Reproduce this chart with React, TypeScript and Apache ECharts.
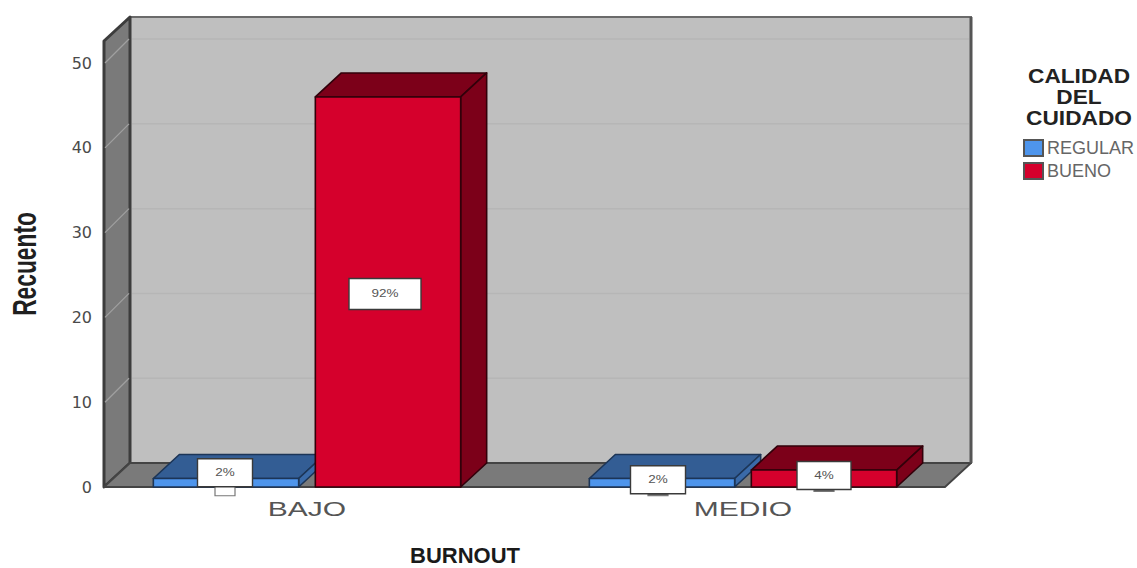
import React, { useEffect, useRef } from "react";
import * as echarts from "echarts";

const categories = ["BAJO", "MEDIO"];
const regularCounts = [1, 1];
const buenoCounts = [46, 2];
const regularPercents = ["2%", "2%"];
const buenoPercents = ["92%", "4%"];
const yTicks = [10, 20, 30, 40, 50];
const legendTitle = ["CALIDAD", "DEL", "CUIDADO"];

// Oblique projection of the box: how far the back plane sits from the front plane.
const DEPTH_X = 26;
const DEPTH_Y = 24;
const Y_MAX = 52.6;
const SANS = '"Liberation Sans", Arial, sans-serif';

const BLUE = { front: "#4E95EC", top: "#335D94", side: "#3A6AA8", edge: "#1C3557" };
const RED = { front: "#D5002C", top: "#7C0019", side: "#7C0019", edge: "#32000A" };

// Label box placement relative to the bar's front face, per category.
const regularBoxes = [
  { dx: -1, dy: -10, w: 55, h: 28, tab: 9, tabFill: "#ffffff" },
  { dx: -4, dy: -3, w: 55, h: 28, tab: 2, tabFill: "#666666" },
];
const buenoBoxes = [
  { dx: -3, dy: 2, w: 72, h: 31, tab: 0, tabFill: "#ffffff" },
  { dx: 0, dy: -3, w: 54, h: 28, tab: 2, tabFill: "#666666" },
];

function barGeometry(api: any, side: number) {
  const base = api.coord([api.value(0), 0]);
  const head = api.coord([api.value(0), api.value(1)]);
  const band = api.size([1, 0])[0];
  const cx = base[0] + (side * band * 81) / 436;
  const half = band / 6;
  return { cx, half, bottom: base[1], top: head[1] };
}

function renderBar(side: number, c: typeof BLUE) {
  return (_: any, api: any) => {
    const { cx, half, bottom, top } = barGeometry(api, side);
    const l = cx - half;
    const r = cx + half;
    const edge = { stroke: c.edge, lineWidth: 1.6, lineJoin: "round" };
    return {
      type: "group",
      children: [
        {
          type: "polygon",
          shape: { points: [[l, top], [r, top], [r + DEPTH_X, top - DEPTH_Y], [l + DEPTH_X, top - DEPTH_Y]] },
          style: { fill: c.top, ...edge },
        },
        {
          type: "polygon",
          shape: { points: [[r, top], [r + DEPTH_X, top - DEPTH_Y], [r + DEPTH_X, bottom - DEPTH_Y], [r, bottom]] },
          style: { fill: c.side, ...edge },
        },
        {
          type: "polygon",
          shape: { points: [[l, top], [r, top], [r, bottom], [l, bottom]] },
          style: { fill: c.front, ...edge },
        },
      ],
    };
  };
}

function renderLabel(side: number, percents: string[], boxes: typeof regularBoxes) {
  return (params: any, api: any) => {
    const { cx, bottom, top } = barGeometry(api, side);
    const i = params.dataIndex;
    const b = boxes[i];
    const x = cx + b.dx;
    const y = (bottom + top) / 2 + b.dy;
    const children: any[] = [];
    if (b.tab > 0) {
      children.push({
        type: "rect",
        shape: { x: x - 10, y: y + b.h / 2 - 4, width: 20, height: b.tab + 4 },
        style: { fill: b.tabFill, stroke: "#777777", lineWidth: 1.2 },
      });
    }
    children.push(
      {
        type: "rect",
        shape: { x: x - b.w / 2, y: y - b.h / 2, width: b.w, height: b.h },
        style: { fill: "#ffffff", stroke: "#3a3a3a", lineWidth: 1.4 },
      },
      {
        type: "text",
        x,
        y,
        scaleX: 1.35,
        style: {
          text: percents[i],
          font: `10px ${SANS}`,
          fill: "#555555",
          align: "center",
          verticalAlign: "middle",
        },
      },
    );
    return { type: "group", children };
  };
}

// Side wall, floor and back wall of the plot box, with the value grid on both walls.
function renderFrame(params: any, api: any) {
  const front = params.coordSys;
  const left = front.x + 15;
  const right = front.x + front.width - 16;
  const floorY = front.y + front.height;
  const ceilY = front.y;
  const dx = DEPTH_X;
  const dy = DEPTH_Y;
  const children: any[] = [
    {
      type: "polygon",
      shape: { points: [[left + dx, ceilY - dy], [right + dx, ceilY - dy], [right + dx, floorY - dy], [left + dx, floorY - dy]] },
      style: { fill: "#BFBFBF", stroke: "#6a6a6a", lineWidth: 2 },
    },
    {
      type: "polygon",
      shape: { points: [[left, ceilY], [left + dx, ceilY - dy], [left + dx, floorY - dy], [left, floorY]] },
      style: { fill: "#7A7A7A", stroke: "#3c3c3c", lineWidth: 3, lineJoin: "round" },
    },
    {
      type: "polygon",
      shape: { points: [[left, floorY], [right, floorY], [right + dx, floorY - dy], [left + dx, floorY - dy]] },
      style: { fill: "#7A7A7A", stroke: "#444444", lineWidth: 1.8, lineJoin: "round" },
    },
    {
      type: "line",
      shape: { x1: right + dx, y1: ceilY - dy, x2: right + dx, y2: floorY - dy },
      style: { stroke: "#555555", lineWidth: 3 },
    },
  ];
  yTicks.forEach((t) => {
    const y = api.coord([0, t])[1];
    children.push(
      {
        type: "line",
        shape: { x1: left + dx + 2, y1: y - dy, x2: right + dx - 2, y2: y - dy },
        style: { stroke: "#B6B6B6", lineWidth: 1.5 },
      },
      {
        type: "line",
        shape: { x1: left + 1, y1: y, x2: left + dx - 1, y2: y - dy },
        style: { stroke: "#A0A0A0", lineWidth: 1.2 },
      },
    );
  });
  return { type: "group", children };
}

function renderCategoryName(params: any, api: any) {
  const [x, y] = api.coord([api.value(0), 0]);
  return {
    type: "text",
    x,
    y: y + 22,
    scaleX: 1.5,
    style: {
      text: categories[params.dataIndex],
      font: `20px ${SANS}`,
      fill: "#555555",
      align: "center",
      verticalAlign: "middle",
    },
  };
}

const pairs = (values: number[]) => values.map((v, i) => [i, v]);
const customBase = { type: "custom", coordinateSystem: "cartesian2d", clip: false, silent: true, encode: { x: 0, y: 1 } };

export default function App() {
  const ref = useRef<HTMLDivElement>(null);

  useEffect(() => {
    const chart = echarts.init(ref.current!, null, { renderer: "svg" });
    chart.setOption({
      animation: false,
      backgroundColor: "#ffffff",
      grid: { left: 89, top: 41, width: 872, height: 446, outerBoundsMode: "none" },
      legend: {
        left: 1023,
        top: 139,
        orient: "vertical",
        align: "left",
        padding: 0,
        itemWidth: 19,
        itemHeight: 16,
        itemGap: 5,
        selectedMode: false,
        data: [
          { name: "REGULAR", icon: "rect" },
          { name: "BUENO", icon: "rect" },
        ],
        textStyle: { fontFamily: SANS, fontSize: 18, color: "#666666", padding: [0, 0, 0, -1] },
      },
      xAxis: {
        type: "category",
        data: categories,
        axisLine: { show: false },
        axisTick: { show: false },
        axisLabel: { show: false },
        splitLine: { show: false },
        name: "BURNOUT",
        nameLocation: "middle",
        nameGap: 60,
        nameTextStyle: {
          fontFamily: SANS,
          fontSize: 22,
          lineHeight: 17,
          fontWeight: "bold",
          color: "#1a1a1a",
          padding: [0, 120, 0, 0],
        },
      },
      yAxis: {
        type: "value",
        min: 0,
        max: Y_MAX,
        interval: 10,
        offset: -15,
        axisLine: { show: false },
        axisTick: { show: false },
        splitLine: { show: false },
        axisLabel: { showMaxLabel: false, margin: 12, fontFamily: "DejaVu Sans", fontSize: 16, color: "#4a4a4a" },
      },
      series: [
        { ...customBase, name: "frame", z: 1, data: [[0, 0]], renderItem: renderFrame },
        {
          ...customBase,
          name: "REGULAR",
          z: 2,
          data: pairs(regularCounts),
          itemStyle: { color: BLUE.front, borderColor: "#555555", borderWidth: 1.2 },
          renderItem: renderBar(-1, BLUE),
        },
        {
          ...customBase,
          name: "BUENO",
          z: 3,
          data: pairs(buenoCounts),
          itemStyle: { color: RED.front, borderColor: "#555555", borderWidth: 1.2 },
          renderItem: renderBar(1, RED),
        },
        { ...customBase, name: "regularLabels", z: 4, data: pairs(regularCounts), renderItem: renderLabel(-1, regularPercents, regularBoxes) },
        { ...customBase, name: "buenoLabels", z: 5, data: pairs(buenoCounts), renderItem: renderLabel(1, buenoPercents, buenoBoxes) },
        { ...customBase, name: "categoryNames", z: 6, data: categories.map((_, i) => [i, 0]), renderItem: renderCategoryName },
      ],
      graphic: [
        {
          type: "text",
          x: 24,
          y: 264,
          rotation: Math.PI / 2,
          scaleX: 0.69,
          style: {
            text: "Recuento",
            font: `bold 33px ${SANS}`,
            fill: "#1f1f1f",
            align: "center",
            verticalAlign: "middle",
          },
        },
        ...legendTitle.map((line, i) => ({
          type: "text",
          x: 1079,
          y: 76 + i * 21,
          scaleX: 1.08,
          style: {
            text: line,
            font: `bold 21px ${SANS}`,
            fill: "#222222",
            align: "center",
            verticalAlign: "middle",
          },
        })),
      ],
    });
    return () => chart.dispose();
  }, []);

  return <div ref={ref} style={{ position: "absolute", left: 0, top: 0, width: 1137, height: 568 }} />;
}
